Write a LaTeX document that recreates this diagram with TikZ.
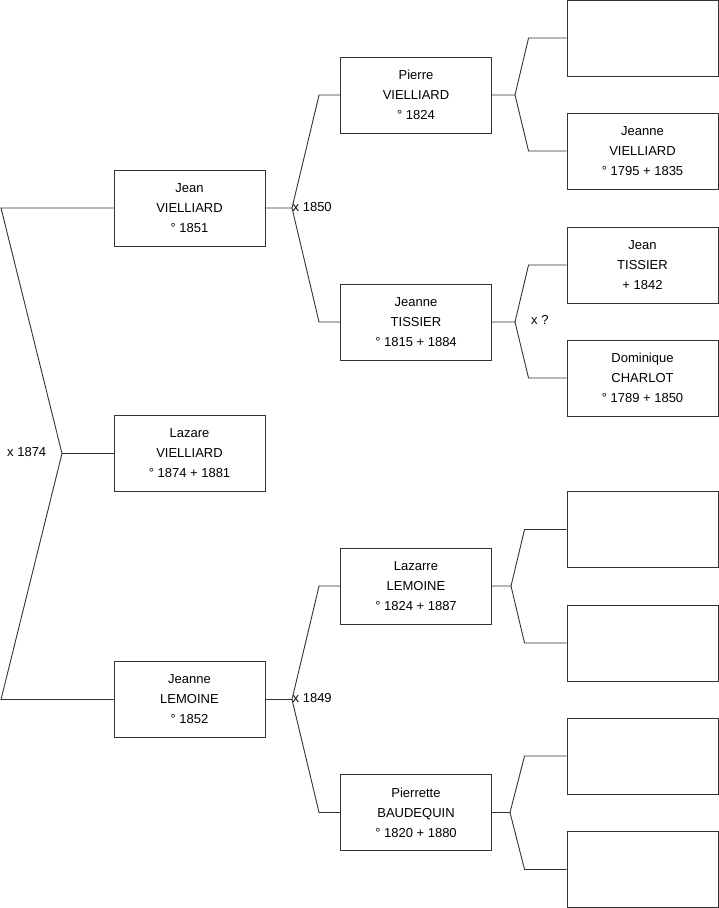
\documentclass[tikz,border=0pt]{standalone}
\usepackage{fontspec}
\setmainfont{Liberation Sans}
\begin{document}
\begin{tikzpicture}[x=1pt,y=-1pt,
  person/.style={draw=black!80, line width=0.9pt, minimum width=151pt, minimum height=76pt,
    inner sep=0pt, align=center, font=\fontsize{13}{20}\selectfont, fill=white},
  link/.style={draw=black!80, line width=0.9pt},
  lbl/.style={font=\fontsize{13}{16}\selectfont, inner sep=0pt}]
\useasboundingbox (0,0) rectangle (719,908);
% column 1
\node[person] (jv) at (189.5,208) {Jean\\VIELLIARD\\° 1851};
\node[person] (lz) at (189.5,453.5) {Lazare\\VIELLIARD\\° 1874 + 1881};
\node[person] (jl) at (189.5,699.5) {Jeanne\\LEMOINE\\° 1852};
% column 2
\node[person] (pv) at (416,95) {Pierre\\VIELLIARD\\° 1824};
\node[person] (jt) at (416,322) {Jeanne\\TISSIER\\° 1815 + 1884};
\node[person] (ll) at (416,586) {Lazarre\\LEMOINE\\° 1824 + 1887};
\node[person] (pb) at (416,812.5) {Pierrette\\BAUDEQUIN\\° 1820 + 1880};
% column 3
\node[person] (r1) at (642.5,38) {};
\node[person] (r2) at (642.5,151) {Jeanne\\VIELLIARD\\° 1795 + 1835};
\node[person] (r3) at (642.5,265) {Jean\\TISSIER\\+ 1842};
\node[person] (r4) at (642.5,378) {Dominique\\CHARLOT\\° 1789 + 1850};
\node[person] (r5) at (642.5,529.5) {};
\node[person] (r6) at (642.5,643) {};
\node[person] (r7) at (642.5,756) {};
\node[person] (r8) at (642.5,869.5) {};
% fork points
\coordinate (l1) at (1,208);
\coordinate (l2) at (1,699.5);
\coordinate (f0) at (62,453.5);
\coordinate (f1) at (292,208);
\coordinate (f2) at (292,699.5);
\coordinate (f3) at (515,95);
\coordinate (f4) at (515,322);
\coordinate (f5) at (511,586);
\coordinate (f6) at (510,812.5);
% connectors
\draw[link] (jv.west) -- (l1) -- (f0) -- (l2) -- (jl.west);
\draw[link] (f0) -- (lz.west);
\draw[link] (jv.east) -- (f1) -- ([xshift=-21pt]pv.west) -- (pv.west);
\draw[link] (f1) -- ([xshift=-21pt]jt.west) -- (jt.west);
\draw[link] (jl.east) -- (f2) -- ([xshift=-21pt]ll.west) -- (ll.west);
\draw[link] (f2) -- ([xshift=-21pt]pb.west) -- (pb.west);
\draw[link] (pv.east) -- (f3) -- ([xshift=-38pt]r1.west) -- (r1.west);
\draw[link] (f3) -- ([xshift=-38pt]r2.west) -- (r2.west);
\draw[link] (jt.east) -- (f4) -- ([xshift=-38pt]r3.west) -- (r3.west);
\draw[link] (f4) -- ([xshift=-38pt]r4.west) -- (r4.west);
\draw[link] (ll.east) -- (f5) -- ([xshift=-42pt]r5.west) -- (r5.west);
\draw[link] (f5) -- ([xshift=-42pt]r6.west) -- (r6.west);
\draw[link] (pb.east) -- (f6) -- ([xshift=-42pt]r7.west) -- (r7.west);
\draw[link] (f6) -- ([xshift=-42pt]r8.west) -- (r8.west);
% labels
\node[lbl, anchor=west] (m0) at (7,452) {x 1874};
\node[lbl, anchor=west] (m1) at (292.5,207) {x 1850};
\node[lbl, anchor=west] (m2) at (292.5,698) {x 1849};
\node[lbl, anchor=west] (m3) at (531,320) {x ?};
\end{tikzpicture}
\end{document}
